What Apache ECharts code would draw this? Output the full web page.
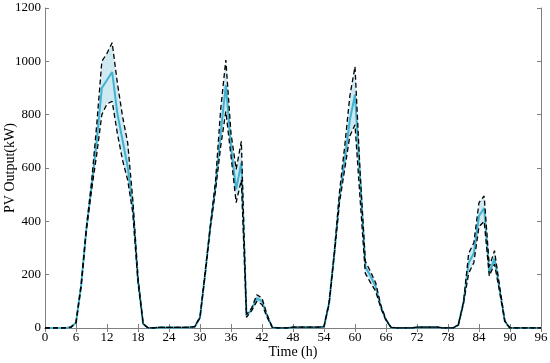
<!DOCTYPE html>
<html>
<head>
<meta charset="utf-8">
<script src="https://cdn.jsdelivr.net/npm/echarts@6/dist/echarts.min.js"></script>
<style>html,body{margin:0;padding:0;background:#fff}#c{width:550px;height:363px}</style>
</head>
<body>
<div id="c"></div>
<script>
var hours = [];
for (var i = 0; i <= 96; i++) hours.push(String(i));

var meanVals = [0,0,0,0,0,3,20,160,370,530,700,900,930,960,805,705,605,455,180,15,
  0,0,2,2,2,2,2,2,3,5,40,205,380,530,730,912,680,520,620,45,
  70,112,100,45,2,0,0,0,3,3,3,3,3,3,5,95,280,490,630,780,
  875,560,230,195,155,80,30,2,0,0,0,0,3,3,3,3,3,0,0,0,
  12,95,245,280,420,450,205,262,145,25,0,0,0,0,0,0,0];
var upperVals = [0,0,0,0,0,3,22,165,375,545,760,1000,1030,1070,920,795,695,480,190,16,
  0,0,2,2,2,2,2,2,3,5,42,210,385,550,820,1005,730,595,700,50,
  75,125,112,50,2,0,0,0,3,3,3,3,3,3,5,98,285,510,680,870,
  980,580,250,212,170,85,32,2,0,0,0,0,3,3,3,3,3,0,0,0,
  13,98,280,320,470,495,230,290,155,27,0,0,0,0,0,0,0];
var lowerVals = [0,0,0,0,0,3,18,155,365,515,650,800,840,850,730,630,555,430,170,14,
  0,0,2,2,2,2,2,2,3,5,38,200,375,515,680,812,645,470,555,40,
  65,100,88,40,2,0,0,0,3,3,3,3,3,3,5,92,275,470,595,720,
  762,480,205,170,138,75,28,2,0,0,0,0,3,3,3,3,3,0,0,0,
  11,92,205,245,380,400,195,240,135,23,0,0,0,0,0,0,0];
var yTicks = [0,200,400,600,800,1000,1200];

var bandVals = upperVals.map(function(u, i){ return u - lowerVals[i]; });
var font = 'Liberation Serif';
var axisGray = '#7f7f7f';
var tickEvery6 = function(idx){ return idx % 6 === 0; };

var chart = echarts.init(document.getElementById('c'), null, {renderer:'canvas'});
chart.setOption({
  animation: false,
  grid: {left: 45, right: 9, top: 8, bottom: 35, containLabel: false, outerBoundsMode: 'none'},
  xAxis: [{
    type: 'category', data: hours, boundaryGap: false,
    name: 'Time (h)', nameLocation: 'middle', nameGap: 17, nameMoveOverlap: false,
    nameTextStyle: {fontFamily: font, fontSize: 14, color: '#000'},
    axisLine: {lineStyle: {color: axisGray, width: 1}},
    axisTick: {inside: true, length: 4, interval: tickEvery6, lineStyle: {color: axisGray}},
    axisLabel: {interval: tickEvery6, fontFamily: font, fontSize: 13, color: '#000', margin: 3},
    splitLine: {show: false}
  },{
    type: 'category', data: hours, boundaryGap: false, position: 'top',
    axisLine: {lineStyle: {color: axisGray, width: 1}},
    axisTick: {inside: true, length: 4, interval: tickEvery6, lineStyle: {color: axisGray}},
    axisLabel: {show: false}, splitLine: {show: false}
  }],
  yAxis: [{
    type: 'value', min: 0, max: 1200, interval: 200,
    name: 'PV Output(kW)', nameLocation: 'middle', nameGap: 28, nameMoveOverlap: false,
    nameTextStyle: {fontFamily: font, fontSize: 14, color: '#000'},
    axisLine: {show: true, lineStyle: {color: axisGray, width: 1}},
    axisTick: {show: true, inside: true, length: 4, lineStyle: {color: axisGray}},
    axisLabel: {fontFamily: font, fontSize: 13, color: '#000', margin: 4,
      formatter: function(v){ return yTicks.indexOf(v) >= 0 ? String(v) : ''; }},
    splitLine: {show: false}
  },{
    type: 'value', min: 0, max: 1200, interval: 200, position: 'right',
    axisLine: {show: true, lineStyle: {color: axisGray, width: 1}},
    axisTick: {show: true, inside: true, length: 4, lineStyle: {color: axisGray}},
    axisLabel: {show: false}, splitLine: {show: false}
  }],
  series: [
    {type: 'line', data: lowerVals, stack: 'band', symbol: 'none', silent: true,
     lineStyle: {opacity: 0}, z: 1},
    {type: 'line', data: bandVals, stack: 'band', symbol: 'none', silent: true,
     lineStyle: {opacity: 0}, areaStyle: {color: '#cfe9f3', opacity: 1}, z: 1},
    {type: 'line', data: meanVals, symbol: 'none',
     lineStyle: {color: '#3fb3d0', width: 2}, z: 3},
    {type: 'line', data: upperVals, symbol: 'none',
     lineStyle: {color: '#000', width: 1.3, type: [5, 3]}, z: 4},
    {type: 'line', data: lowerVals, symbol: 'none',
     lineStyle: {color: '#000', width: 1.3, type: [5, 3]}, z: 4}
  ]
});
</script>
</body>
</html>
